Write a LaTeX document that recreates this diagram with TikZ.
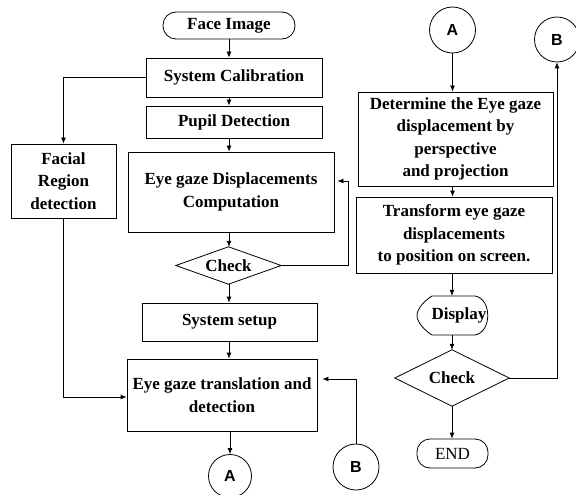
\documentclass[tikz,border=0pt]{standalone}
\usepackage{fontspec}
\setmainfont{Liberation Serif}
\newfontfamily\circfont{Liberation Sans}
\usetikzlibrary{arrows.meta}
\begin{document}
\begin{tikzpicture}[x=1pt,y=-1pt,
  every node/.style={font=\fontsize{17}{22.5}\selectfont\bfseries, align=center, inner sep=0pt},
  box/.style={draw, rectangle, line width=0.8pt},
  rbox/.style={draw, rectangle, rounded corners=13pt, line width=0.8pt},
  plain/.style={rectangle},
  conn/.style={draw, circle, line width=0.8pt, font=\fontsize{16}{18}\selectfont\circfont\bfseries},
  arr/.style={line width=0.8pt, -{Latex[length=6pt,width=5pt]}},
  ln/.style={line width=0.8pt}]
\useasboundingbox (0,0) rectangle (576,495);

% left column
\node[rbox, minimum width=132pt, minimum height=27pt] (face) at (229,25.5) {Face Image};
\node[box, minimum width=176pt, minimum height=39pt] (cal) at (234,77.5) {System Calibration};
\node[box, minimum width=176pt, minimum height=32pt] (pupil) at (234,122) {Pupil Detection};
\node[box, minimum width=206pt, minimum height=80pt] (edc) at (231,192) {Eye gaze Displacements\\Computation};
\node[box, minimum width=105pt, minimum height=74pt] (facial) at (63.5,181) {Facial\\Region\\detection};
\node[plain, minimum width=105pt, minimum height=37pt] (check1) at (228.5,265.5) {\raisebox{-3pt}{Check}};
\draw[ln] (check1.north) -- (check1.east) -- (check1.south) -- (check1.west) -- cycle;
\node[box, minimum width=175pt, minimum height=38pt] (setup) at (229.5,322) {System setup};
\node[box, minimum width=190pt, minimum height=72pt] (trans) at (222,395) {Eye gaze translation and\\detection};
\node[conn, minimum size=43pt] (Ab) at (230,476) {A};
\node[conn, minimum size=46pt] (Bb) at (356,467) {B};

% right column
\node[conn, minimum size=46pt] (At) at (452.5,30) {A};
\node[conn, minimum size=45pt] (Bt) at (557,39.5) {B};
\node[box, minimum width=195pt, minimum height=94pt] (det) at (455.5,139) {Determine the Eye gaze\\displacement by\\perspective\\and projection};
\node[box, minimum width=196pt, minimum height=76pt] (tf) at (454,235) {Transform eye gaze\\displacements\\to position on screen.};
\draw[ln] (432,296) -- (475,296) .. controls (492,299) and (492,332) .. (475,335)
  -- (432,335) .. controls (424,330) and (417,322) .. (417,315.5)
  .. controls (417,309) and (424,301) .. (432,296) -- cycle;
\node[plain, minimum width=56pt, minimum height=39pt] (disp) at (459,315.5) {Display};
\node[plain, minimum width=114pt, minimum height=56pt] (check2) at (452,378) {\raisebox{-4pt}{Check}};
\draw[ln] (check2.north) -- (check2.east) -- (check2.south) -- (check2.west) -- cycle;
\node[rbox, minimum width=71pt, minimum height=29pt, font=\fontsize{17}{20}\selectfont\mdseries] (end) at (452.5,453.5) {END};

% connectors left
\draw[arr] (face.south) -- (face.south |- cal.north);
\draw[arr] (face.south |- cal.south) -- (face.south |- pupil.north);
\draw[arr] (face.south |- pupil.south) -- (face.south |- edc.north);
\draw[arr] (face.south |- edc.south) -- (face.south |- check1.north);
\draw[arr] (face.south |- check1.south) -- (face.south |- setup.north);
\draw[arr] (face.south |- setup.south) -- (face.south |- trans.north);
\draw[arr] (Ab.north |- trans.south) -- (Ab.north);
\draw[arr] (cal.west) -| (facial.north);
\coordinate (tl) at (62,397);
\draw[arr] (facial.south) -- (facial.south |- tl) -- (trans.west |- tl);
\coordinate (fb) at (348,181);
\draw[arr, shorten >=3pt] (check1.east) -| (fb) -- (edc.east |- fb);
\coordinate (bb) at (356,379);
\draw[arr, shorten >=5pt] (Bb.north) -- (Bb.north |- bb) -- (trans.east |- bb);

% connectors right
\draw[arr] (At.south) -- (At.south |- det.north);
\draw[arr] (At.south |- det.south) -- (At.south |- tf.north);
\draw[arr] (check2.north |- tf.south) -- (check2.north |- disp.north);
\draw[arr] (check2.north |- disp.south) -- (check2.north);
\draw[arr] (check2.south) -- (check2.south |- end.north);
\draw[arr] (check2.east) -| (Bt.south);
\end{tikzpicture}
\end{document}
